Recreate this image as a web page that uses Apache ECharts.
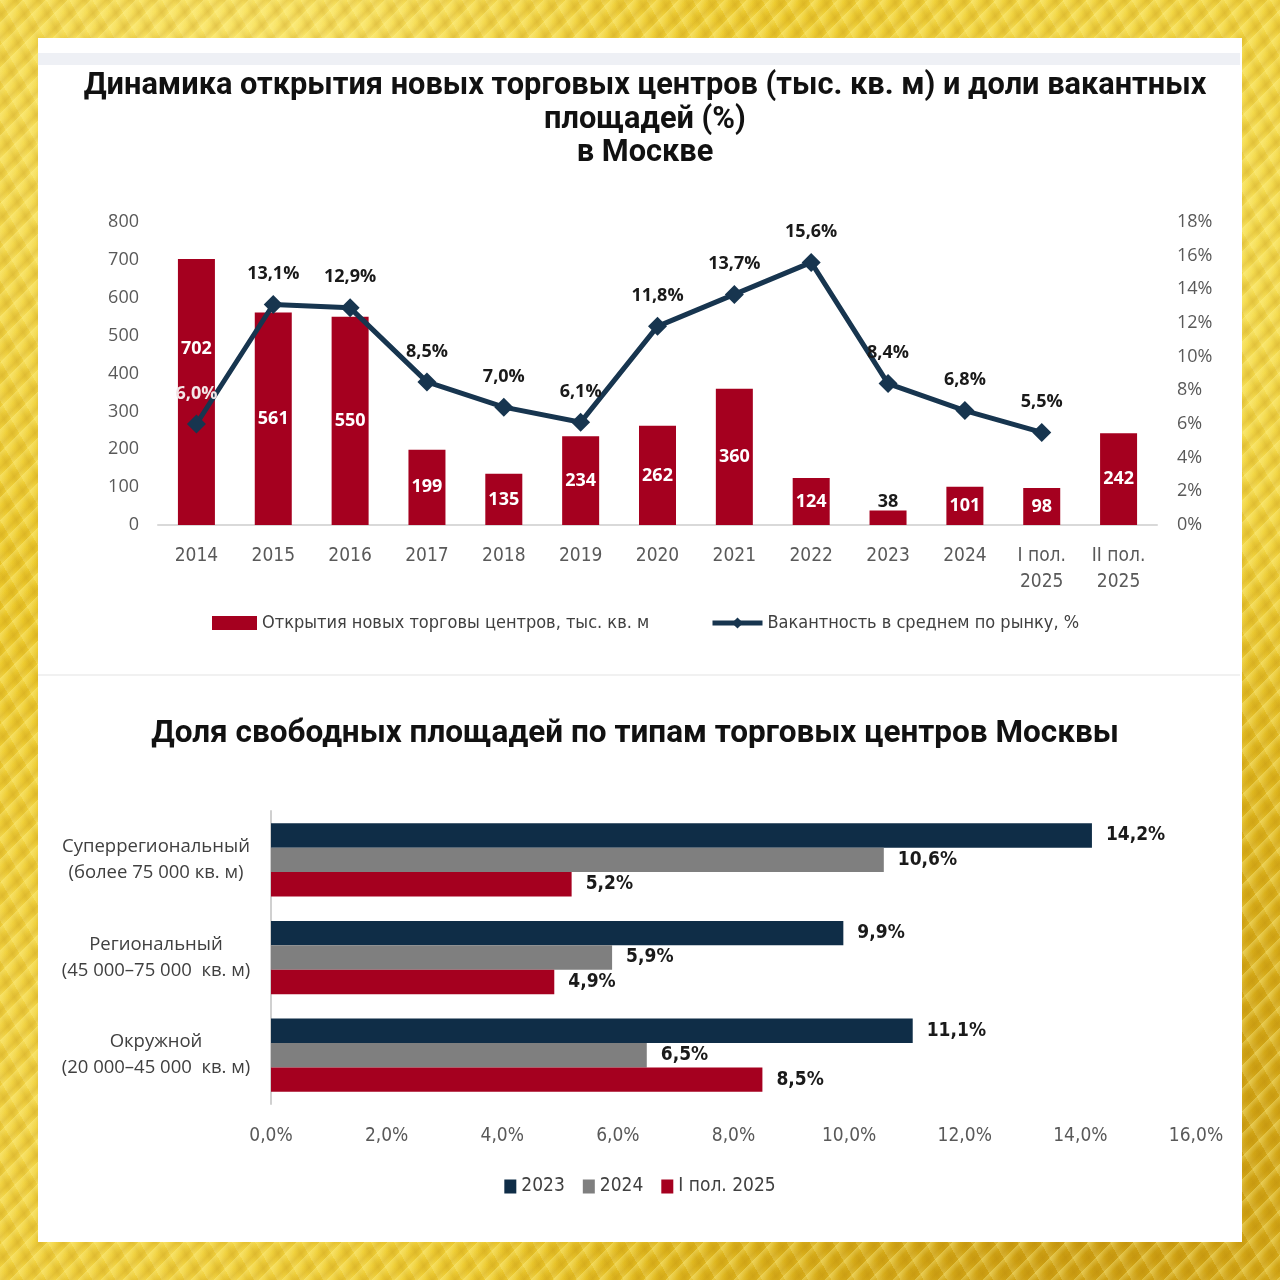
<!DOCTYPE html>
<html>
<head>
<meta charset="utf-8">
<script src="https://cdn.jsdelivr.net/npm/echarts@6/dist/echarts.min.js"></script>
<style>
  html, body { margin:0; padding:0; width:1280px; height:1280px; overflow:hidden; }
  body {
    background-color:#ecc827;
    background-image:
      repeating-linear-gradient(135deg, rgba(255,245,150,0.35) 0px, rgba(255,245,150,0.0) 6px, rgba(170,115,0,0.16) 11px, rgba(255,240,120,0.0) 16px),
      repeating-linear-gradient(60deg, rgba(255,250,180,0.22) 0px, rgba(255,250,180,0) 9px, rgba(150,100,0,0.10) 14px, rgba(255,250,180,0) 20px),
      radial-gradient(circle at 20% 10%, #fbe870 0%, rgba(251,232,112,0) 35%),
      radial-gradient(circle at 85% 90%, #c99a10 0%, rgba(201,154,16,0) 40%),
      radial-gradient(circle at 90% 20%, #f7e15a 0%, rgba(247,225,90,0) 35%),
      radial-gradient(circle at 10% 85%, #f3d64a 0%, rgba(243,214,74,0) 35%);
  }
  #panel { position:absolute; left:38px; top:38px; width:1204px; height:1204px; background:#ffffff; }
  #strip { position:absolute; left:38px; top:53px; width:1202px; height:12px; background:#eef0f5; }
  #divider { position:absolute; left:38px; top:674px; width:1202px; height:2px; background:#f1f1f1; }
  #chart { position:absolute; left:0; top:0; width:1280px; height:1280px; }
</style>
</head>
<body>
<div id="panel"></div>
<div id="strip"></div>
<div id="divider"></div>
<div id="chart"></div>
<script>
// ---------- Data: chart 1 ----------
const periods = ['2014','2015','2016','2017','2018','2019','2020','2021','2022','2023','2024','I пол.\n2025','II пол.\n2025'];
const openings = [702,561,550,199,135,234,262,360,124,38,101,98,242];
const vacancy = [6.0,13.1,12.9,8.5,7.0,6.1,11.8,13.7,15.6,8.4,6.8,5.5,null];
const leftTicks = { min:0, max:800, interval:100 };
const rightTicks = { min:0, max:18, interval:2 };

// ---------- Data: chart 2 ----------
const mallTypes = ['Суперрегиональный\n(более 75 000 кв. м)','Региональный\n(45 000–75 000  кв. м)','Окружной\n(20 000–45 000  кв. м)'];
const share2023 = [14.2, 9.9, 11.1];
const share2024 = [10.6, 5.9, 6.5];
const shareH1_2025 = [5.2, 4.9, 8.5];
const shareTicks = { min:0, max:16, interval:2 };

const RED = '#a5001f', NAVY = '#0f2d47', GREY = '#7f7f7f', LINE = '#17354f';
const OPEN = "'Open Sans', 'Noto Sans', sans-serif";
const NARROW = "'Liberation Sans Narrow', 'DejaVu Sans Condensed', 'Open Sans', sans-serif";
const TITLE = "Roboto, 'Noto Sans', sans-serif";
const comma = v => String(v.toFixed(1)).replace('.', ',');

const barData = openings.map((v, i) => {
  if (v === 38) return { value: v, label: { position:'top', distance:0, color:'#1a1a1a' } };
  if (i === 0) return { value: v, label: { offset:[0,-43] } };
  return v;
});
const lineData = vacancy.map((v, i) => {
  if (i === 0) return { value: v, label: { color:'#f3e6e8' } };
  return v;
});

const chart = echarts.init(document.getElementById('chart'), null, { renderer:'canvas' });
chart.setOption({
  animation:false,
  backgroundColor:'transparent',
  title:[
    { text:'Динамика открытия новых торговых центров (тыс. кв. м) и доли вакантных\nплощадей (%)\nв Москве',
      left:640, top:65, textAlign:'center',
      textStyle:{ fontFamily:TITLE, fontWeight:'bold', fontSize:30.75, lineHeight:33.5, color:'#111' } },
    { text:'Доля свободных площадей по типам торговых центров Москвы',
      left:630, top:713, textAlign:'center',
      textStyle:{ fontFamily:TITLE, fontWeight:'bold', fontSize:31.5, color:'#111' } }
  ],
  legend:[
    { data:['Открытия новых торговы центров, тыс. кв. м'], left:207, top:609, itemWidth:45, itemHeight:14, itemGap:8,
      icon:'rect', textStyle:{ fontFamily:NARROW, fontSize:18, color:'#404040' } },
    { data:['Вакантность в среднем по рынку, %'], left:705, top:609, itemWidth:50, itemHeight:14, itemGap:6,
      lineStyle:{ width:5 }, textStyle:{ fontFamily:NARROW, fontSize:18, color:'#404040' } },
    { data:['2023','2024','I пол. 2025'], left:'center', top:1172, itemWidth:12, itemHeight:14, itemGap:18,
      icon:'rect', textStyle:{ fontFamily:NARROW, fontSize:19, color:'#404040' } }
  ],
  grid:[
    { left:158, right:123, top:222, height:303 },
    { left:271, right:84, top:811, height:293 }
  ],
  xAxis:[
    { type:'category', gridIndex:0, data:periods,
      axisLine:{ lineStyle:{ color:'#d9d9d9', width:2 } }, axisTick:{ show:false },
      axisLabel:{ fontFamily:NARROW, fontSize:19, color:'#595959', margin:18, lineHeight:26 } },
    { type:'value', gridIndex:1, min:shareTicks.min, max:shareTicks.max, interval:shareTicks.interval,
      splitLine:{ show:false }, axisLine:{ show:false }, axisTick:{ show:false },
      axisLabel:{ fontFamily:NARROW, fontSize:19, color:'#595959', margin:23, formatter: v => comma(v) + '%' } }
  ],
  yAxis:[
    { type:'value', gridIndex:0, min:leftTicks.min, max:leftTicks.max, interval:leftTicks.interval,
      splitLine:{ show:false }, axisLine:{ show:false }, axisTick:{ show:false },
      axisLabel:{ fontFamily:OPEN, fontSize:18, color:'#595959', margin:19 } },
    { type:'value', gridIndex:0, position:'right', min:rightTicks.min, max:rightTicks.max, interval:rightTicks.interval,
      splitLine:{ show:false }, axisLine:{ show:false }, axisTick:{ show:false },
      axisLabel:{ fontFamily:OPEN, fontSize:18, color:'#595959', margin:20, formatter:'{value}%' } },
    { type:'category', gridIndex:1, data:mallTypes, inverse:true,
      axisLine:{ lineStyle:{ color:'#d0d0d0', width:2 } }, axisTick:{ show:false },
      axisLabel:{ fontFamily:OPEN, fontSize:18.5, color:'#404040', margin:115, lineHeight:26, align:'center' } }
  ],
  series:[
    { name:'Открытия новых торговы центров, тыс. кв. м', type:'bar', xAxisIndex:0, yAxisIndex:0,
      data:barData, barWidth:37, itemStyle:{ color:RED },
      label:{ show:true, position:'inside', color:'#ffffff', fontFamily:OPEN, fontWeight:'bold', fontSize:18 } },
    { name:'Вакантность в среднем по рынку, %', type:'line', xAxisIndex:0, yAxisIndex:1,
      data:lineData, symbol:'diamond', symbolSize:19, lineStyle:{ color:LINE, width:5 }, itemStyle:{ color:LINE },
      label:{ show:true, position:'top', distance:12, color:'#1a1a1a', fontFamily:OPEN, fontWeight:'bold', fontSize:18,
        formatter: p => comma(p.value) + '%' } },
    { name:'2023', type:'bar', xAxisIndex:1, yAxisIndex:2, data:share2023, itemStyle:{ color:NAVY },
      barGap:'0%', barCategoryGap:'25%',
      label:{ show:true, position:'right', distance:14, color:'#1a1a1a', fontFamily:NARROW, fontWeight:'bold', fontSize:19,
        formatter: p => comma(p.value) + '%' } },
    { name:'2024', type:'bar', xAxisIndex:1, yAxisIndex:2, data:share2024, itemStyle:{ color:GREY },
      barGap:'0%', barCategoryGap:'25%',
      label:{ show:true, position:'right', distance:14, color:'#1a1a1a', fontFamily:NARROW, fontWeight:'bold', fontSize:19,
        formatter: p => comma(p.value) + '%' } },
    { name:'I пол. 2025', type:'bar', xAxisIndex:1, yAxisIndex:2, data:shareH1_2025, itemStyle:{ color:RED },
      barGap:'0%', barCategoryGap:'25%',
      label:{ show:true, position:'right', distance:14, color:'#1a1a1a', fontFamily:NARROW, fontWeight:'bold', fontSize:19,
        formatter: p => comma(p.value) + '%' } }
  ]
});
</script>
</body>
</html>
